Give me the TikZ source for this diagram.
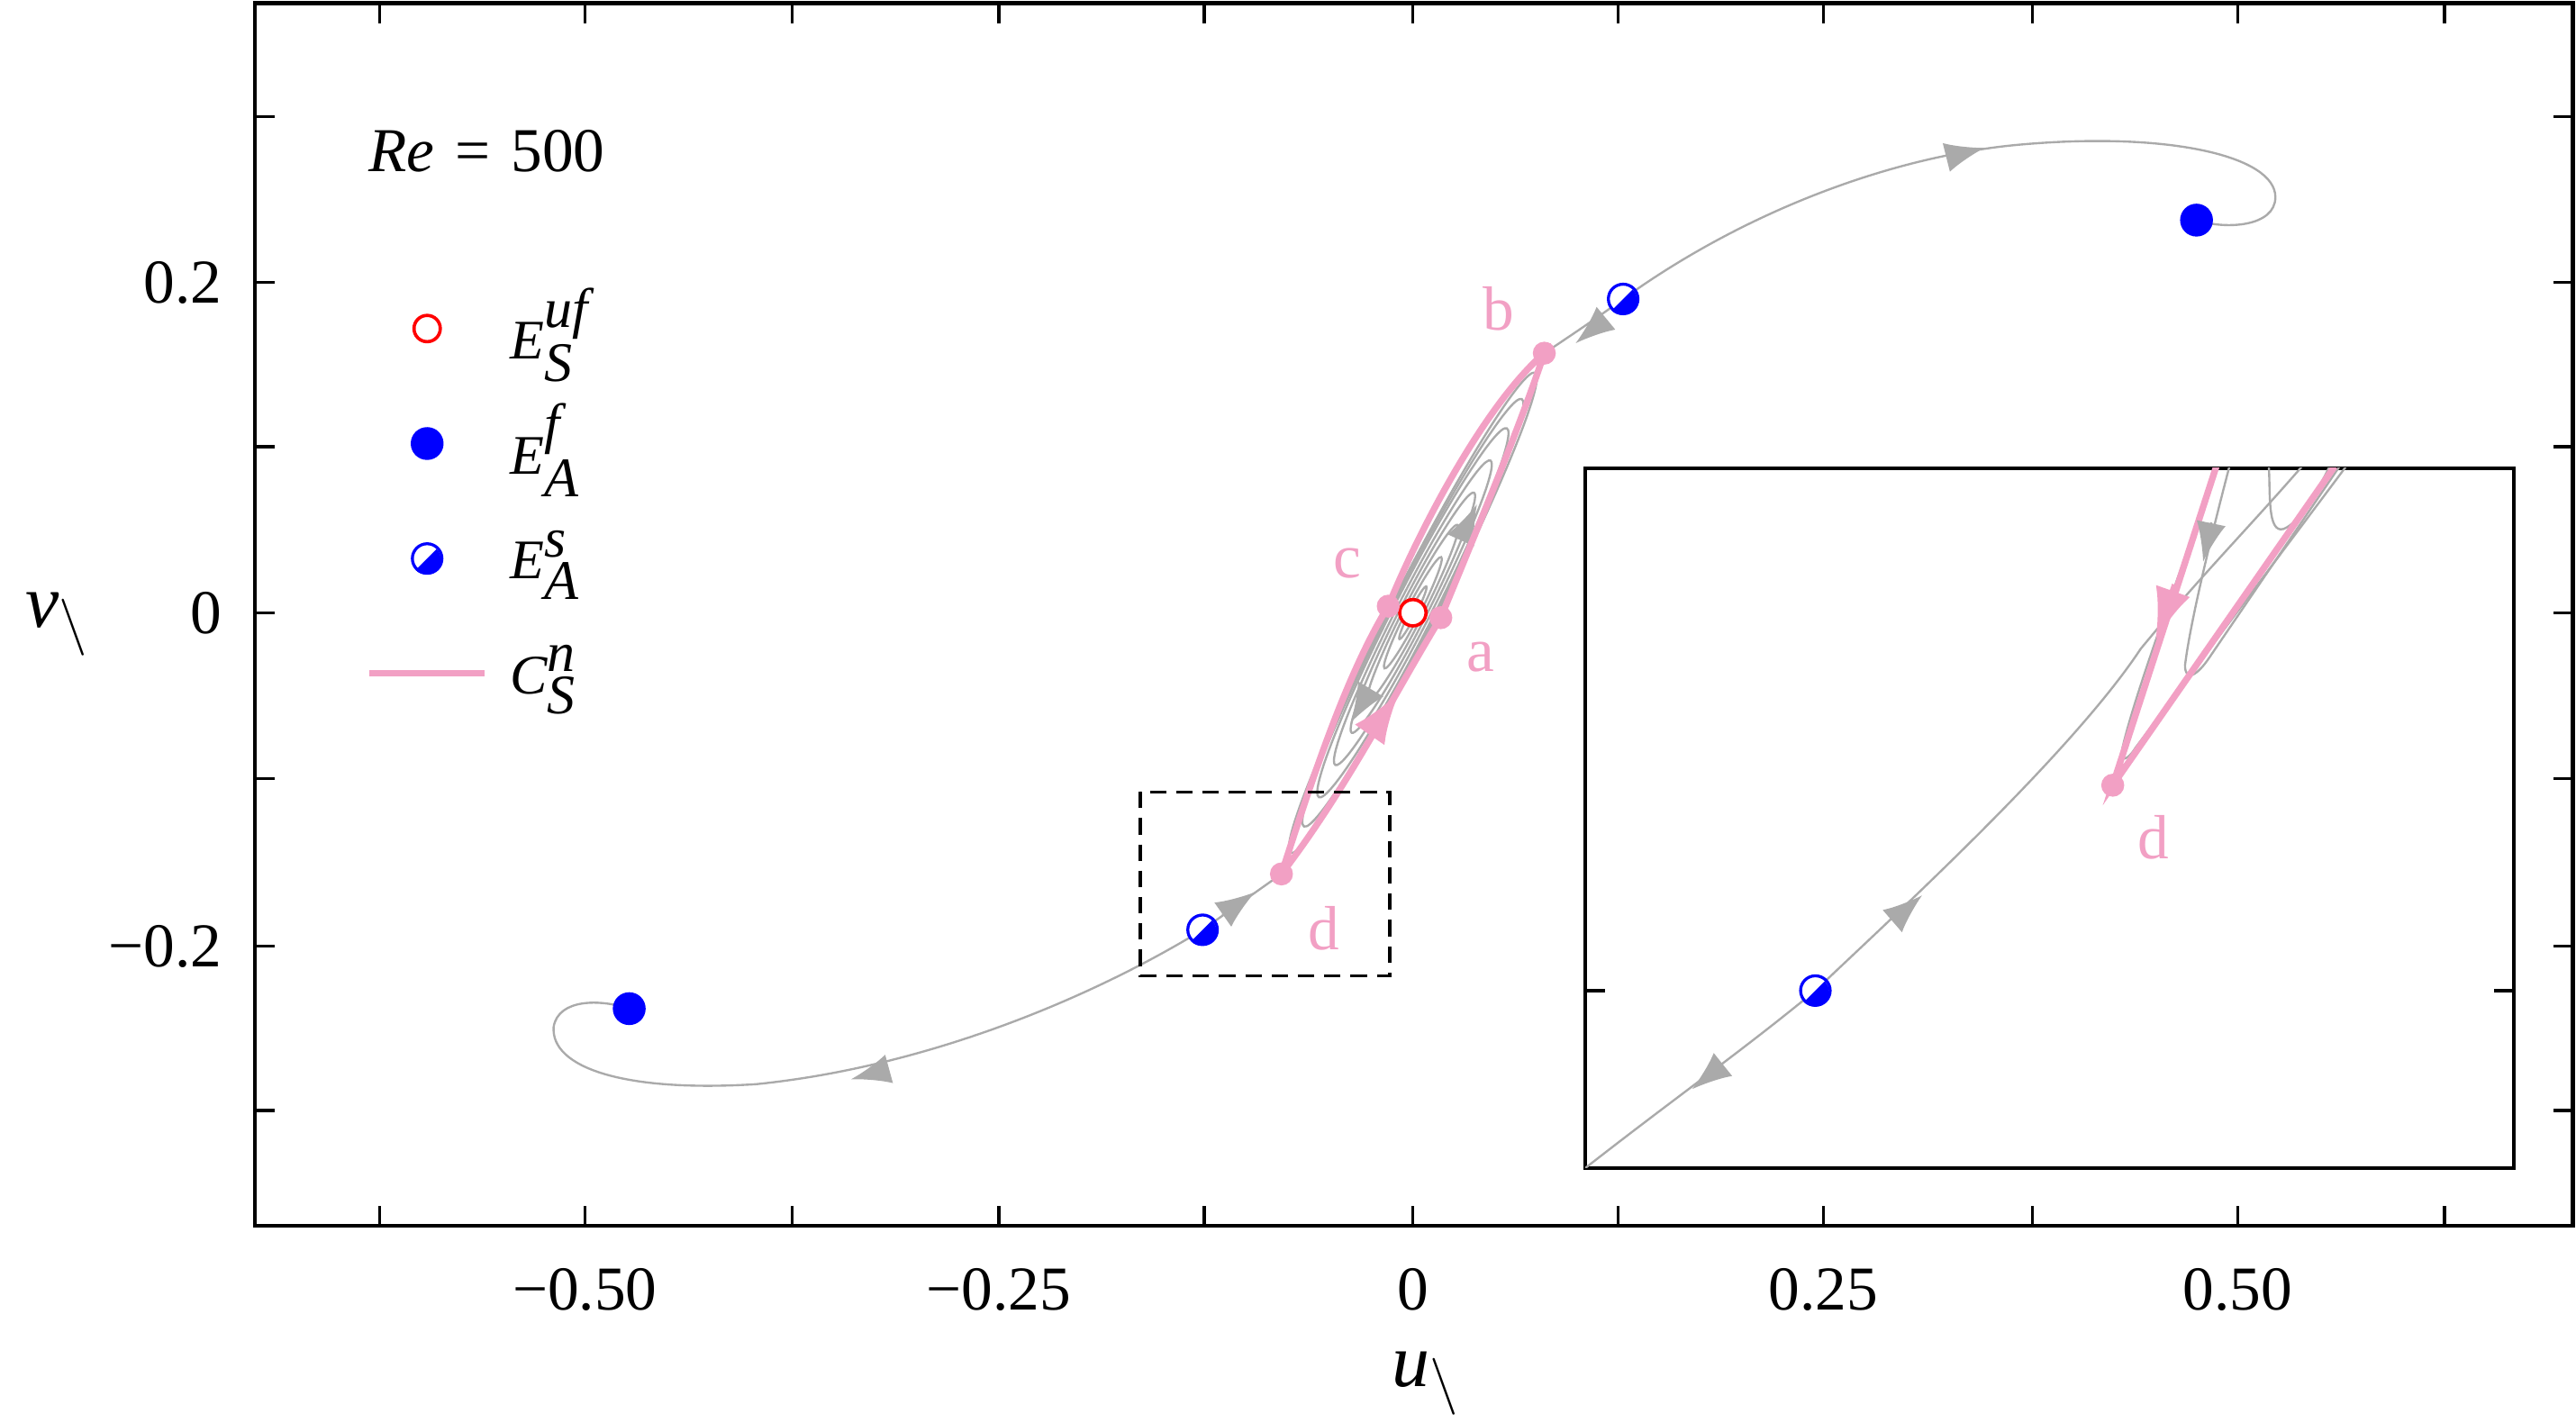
\documentclass[tikz,border=0pt]{standalone}
\usepackage{fontspec}
\setmainfont{Liberation Serif}
\usetikzlibrary{arrows.meta}
\definecolor{pk}{HTML}{F2A0C4}
\definecolor{gr}{HTML}{AAAAAA}
\newcommand{\halfdot}[2]{%
  \node[circle,draw=blue,line width=0.9pt,fill=white,inner sep=0pt,minimum size=9pt] (#2) at (#1) {};
  \fill[blue] (#2.south west) arc[start angle=225,delta angle=180,radius=4.5pt] -- cycle;}
\begin{document}
\begin{tikzpicture}[x=0.5pt,y=-0.5pt,
  frame/.style={line width=1.2pt},
  gline/.style={gr,line width=0.65pt},
  pline/.style={pk,line width=2pt},
  garr/.style={gr,line width=0.65pt,-{Latex[length=12pt,width=9pt]}},
  parr/.style={pk,line width=2pt,-{Latex[length=16pt,width=11pt]}},
  tick/.style={line width=0.9pt},
  tl/.style={font=\fontsize{19}{22}\selectfont},
  pl/.style={text=pk,font=\fontsize{19}{22}\selectfont},
  lg/.style={font=\fontsize{17}{18}\selectfont,anchor=west,inner sep=0pt},
  fdot/.style={circle,fill=blue,inner sep=0pt,minimum size=10pt},
  odot/.style={circle,draw=red,line width=1pt,fill=white,inner sep=0pt,minimum size=8pt},
  pdot/.style={circle,fill=pk,inner sep=0pt,minimum size=7pt}]
\useasboundingbox (0,0) rectangle (1568,866);
% frame and ticks
\draw[frame] (155,2) rectangle (1566,746);
\foreach \x in {231,356,482,608,733,860,985,1110,1237,1362,1488}{
  \draw[tick] (\x,746) -- (\x,734); \draw[tick] (\x,2) -- (\x,14);}
\foreach \y in {71,172,272,373,474,576,676}{
  \draw[tick] (155,\y) -- (167,\y); \draw[tick] (1566,\y) -- (1554,\y);}
\node[tl] (x1) at (356,785) {−0.50};
\node[tl] (x2) at (608,785) {−0.25};
\node[tl] (x3) at (860,785) {0};
\node[tl] (x4) at (1110,785) {0.25};
\node[tl] (x5) at (1362,785) {0.50};
\node[tl,anchor=east] (y1) at (142,172) {0.2};
\node[tl,anchor=east] (y2) at (142,373) {0};
\node[tl,anchor=east] (y3) at (142,576) {−0.2};
\node[font=\fontsize{23}{26}\selectfont] (vl) at (35,380) {$\textit{v}_{\backslash}$};
\node[font=\fontsize{23}{26}\selectfont] (ul) at (868,842) {$\textit{u}_{\backslash}$};
% legend
\node[lg,font=\fontsize{19}{20}\selectfont] (re) at (224,92) {\textit{Re}\,\,=\,\,500};
\node[odot] (l1) at (260,200) {};
\node[fdot] (l2) at (260,270) {};
\halfdot{260,340}{l3}
\coordinate (l4a) at (225,410); \coordinate (l4b) at (295,410);
\draw[pk,line width=2pt] (l4a) -- (l4b);
\node[lg] (t1) at (310,204) {$\textit{E}^{\textit{uf}}_{\textit{S}}$};
\node[lg] (t2) at (310,274) {$\textit{E}^{\textit{f}}_{\textit{A}}$};
\node[lg] (t3) at (310,344) {$\textit{E}^{\textit{s}}_{\textit{A}}$};
\node[lg] (t4) at (310,414) {$\textit{C}^{\textit{n}}_{\textit{S}}$};
% points
\coordinate (O) at (860,373);
\coordinate (A) at (877,376);
\coordinate (B) at (940,215);
\coordinate (C) at (845,369);
\coordinate (D) at (780,532);
\coordinate (F1) at (1337,134);
\coordinate (F2) at (383,614);
\coordinate (S1) at (988,182);
\coordinate (S2) at (732,566);
% gray trajectories
\draw[gline] (S1) .. controls (1060,130) and (1150,95) .. (1230,88) .. controls (1320,80) and (1385,95) .. (1385,120) .. controls (1385,138) and (1355,140) .. (F1);
\draw[gline] (S1) .. controls (970,195) and (955,205) .. (B);
\draw[gline] (S2) .. controls (660,610) and (560,650) .. (460,660) .. controls (380,665) and (335,650) .. (337,625) .. controls (340,608) and (365,608) .. (F2);
\draw[gline] (S2) -- (D);
\draw[garr] (1188,95) -- (1208,90);
\draw[garr] (976,195) -- (959,209);
\draw[garr] (540,651) -- (518,657);
\draw[garr] (744,557) -- (764,543);
\begin{scope}[shift={(860,373)},rotate=63]
  \foreach \a/\b in {18/2,38/4,60/6,82/8,104/10,126/12,146/13,164/14}
    \draw[gline] (0,0) ellipse[x radius=\a,y radius=\b];
\end{scope}
\draw[garr] (890,327) -- (899,307);
\draw[garr] (834,420) -- (822,440);
% pink cycle
\draw[pline] (D) .. controls (820,480) and (850,420) .. (A) .. controls (900,320) and (925,260) .. (B) .. controls (905,245) and (865,320) .. (C) .. controls (820,410) and (800,470) .. (D);
\draw[parr] (836,444) -- (852,421);
\node[odot] (ES) at (O) {};
\node[pdot] at (A) {}; \node[pdot] at (B) {}; \node[pdot] at (C) {}; \node[pdot] at (D) {};
\node[pl] (la) at (901,400) {a};
\node[pl] (lb) at (912,188) {b};
\node[pl] (lc) at (820,343) {c};
\node[pl] (ld) at (806,565) {d};
\node[fdot] (e1) at (F1) {};
\node[fdot] (e2) at (F2) {};
\halfdot{S1}{h1}
\halfdot{S2}{h2}
% dashed box
\draw[dashed,line width=0.9pt,dash pattern=on 5pt off 3pt] (694,482) rectangle (846,594);
% inset
\draw[frame,fill=white] (965,285) rectangle (1530,711);
\draw[tick] (965,603) -- (977,603); \draw[tick] (1530,603) -- (1518,603);
\begin{scope}
\clip (965,285) rectangle (1530,711);
\coordinate (iS) at (1105,603);
\coordinate (iD) at (1286,478);
\draw[gline] (965,711) .. controls (1020,668) and (1060,640) .. (iS) .. controls (1150,560) and (1260,460) .. (1303,395) .. controls (1340,350) and (1370,320) .. (1402,283);
\draw[gline] (1357,284) .. controls (1345,330) and (1333,380) .. (1330,405) .. controls (1330,415) and (1337,412) .. (1345,400) -- (1424,284);
\draw[gline] (1350,284) .. controls (1330,340) and (1300,420) .. (1292,455) .. controls (1290,465) and (1295,463) .. (1300,455) -- (1428,284);
\draw[gline] (1381,284) .. controls (1382,300) and (1380,325) .. (1390,322) .. controls (1400,318) and (1410,300) .. (1418,284);
\draw[pline] (1349,284) -- (iD) -- (1421,284);
\draw[garr] (1040,655) -- (1030,663);
\draw[garr] (1155,558) -- (1170,545);
\draw[parr] (1324,356) -- (1312,390);
\draw[garr] (1346,318) -- (1341,342);
\node[pdot] at (iD) {};
\halfdot{iS}{h3}
\end{scope}
\node[pl] (ld2) at (1311,510) {d};
\end{tikzpicture}
\end{document}
